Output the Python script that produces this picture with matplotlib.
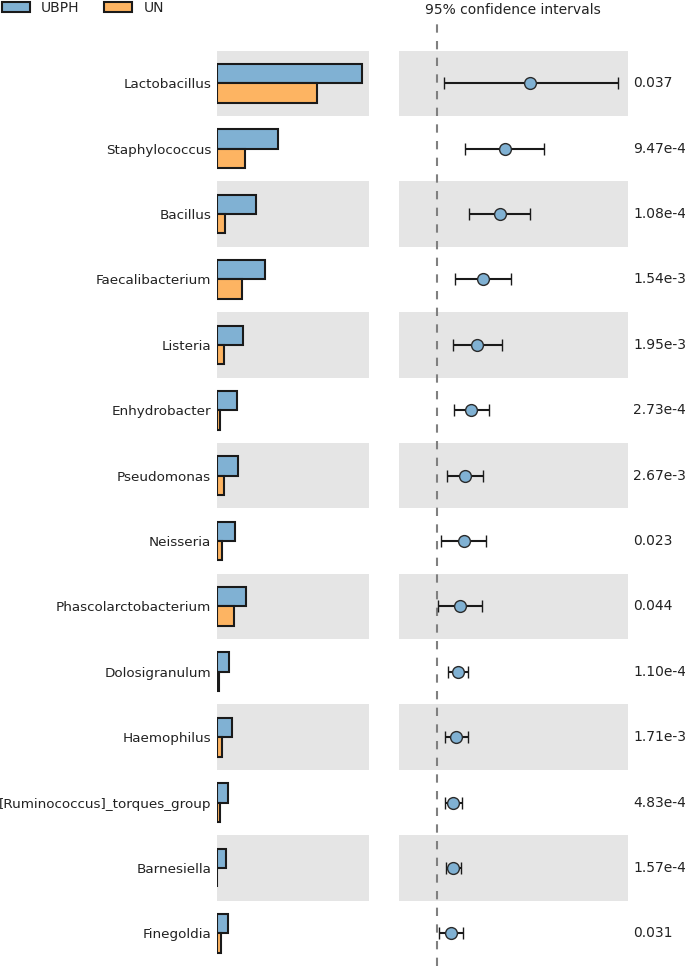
import matplotlib
matplotlib.use('Agg')
import matplotlib.pyplot as plt
import matplotlib.transforms as mtransforms
from matplotlib.patches import Patch
import numpy as np

genera = ['Lactobacillus', 'Staphylococcus', 'Bacillus', 'Faecalibacterium', 'Listeria',
          'Enhydrobacter', 'Pseudomonas', 'Neisseria', 'Phascolarctobacterium',
          'Dolosigranulum', 'Haemophilus', '[Ruminococcus]_torques_group', 'Barnesiella',
          'Finegoldia']

# mean abundance (%) per group
ubph = [14.98, 6.33, 4.00, 4.93, 2.72, 2.07, 2.20, 1.86, 2.96, 1.27, 1.55, 1.17, 0.93, 1.17]
un = [10.30, 2.89, 0.80, 2.61, 0.72, 0.31, 0.75, 0.52, 1.79, 0.21, 0.55, 0.31, 0.03, 0.40]

# difference in mean and 95% CI
diff = [4.68, 3.43, 3.18, 2.33, 2.03, 1.73, 1.43, 1.36, 1.16, 1.05, 0.97, 0.83, 0.83, 0.71]
ci_low = [0.34, 1.43, 1.63, 0.92, 0.79, 0.84, 0.52, 0.19, 0.03, 0.54, 0.39, 0.39, 0.44, 0.08]
ci_high = [9.14, 5.42, 4.71, 3.75, 3.28, 2.64, 2.34, 2.49, 2.26, 1.55, 1.58, 1.28, 1.23, 1.33]

p_values = ['0.037', '9.47e-4', '1.08e-4', '1.54e-3', '1.95e-3', '2.73e-4', '2.67e-3',
            '0.023', '0.044', '1.10e-4', '1.71e-3', '4.83e-4', '1.57e-4', '0.031']

blue = '#80B1D3'
orange = '#FDB462'
band = '#E5E5E5'
txt = '#222222'

n = len(genera)
y = np.arange(n)

fig = plt.figure(figsize=(6.85, 9.66), dpi=100)
ax1 = fig.add_axes([0.3168, 0.0, 0.2219, 0.9814])
ax2 = fig.add_axes([0.5825, 0.0, 0.3336, 0.9814])

for ax in (ax1, ax2):
    for i in range(0, n, 2):
        ax.axhspan(i - 0.5, i + 0.5, color=band, zorder=0, lw=0)
    ax.set_ylim(n - 0.5, -1.0)
    for s in ax.spines.values():
        s.set_visible(False)
    ax.tick_params(length=0)
    ax.set_xticks([])

# left: bar chart
ax1.barh(y - 0.148, ubph, height=0.296, color=blue, edgecolor='#1a1a1a', lw=1.5, zorder=2)
ax1.barh(y + 0.148, un, height=0.296, color=orange, edgecolor='#1a1a1a', lw=1.5, zorder=2)
ax1.set_xlim(0, 15.7)
ax1.set_yticks(y)
ax1.set_yticklabels(genera, fontsize=9.7, color=txt)
ax1.tick_params(axis='y', pad=4.3)

# right: CI plot
diff_a = np.array(diff)
xerr = [diff_a - np.array(ci_low), np.array(ci_high) - diff_a]
ax2.axvline(0, color='#808080', lw=1.5, linestyle=(0, (4, 4)), zorder=1)
ax2.errorbar(diff, y, xerr=xerr, fmt='o', color='#1a1a1a', mfc=blue, mec='#2a2a2a',
             ms=8.5, mew=1.0, elinewidth=1.5, capsize=4, capthick=1.2, zorder=3)
ax2.set_xlim(-1.92, 9.62)
ax2.set_yticks([])
ax2.set_title('95% confidence intervals', fontsize=10, pad=3, color=txt)

trans = mtransforms.blended_transform_factory(ax2.transAxes, ax2.transData)
for i, p in enumerate(p_values):
    ax2.text(1.024, i, p, transform=trans, fontsize=10, va='center', ha='left', color=txt)

handles = [Patch(facecolor=blue, edgecolor='#1a1a1a', lw=1.5, label='UBPH'),
           Patch(facecolor=orange, edgecolor='#1a1a1a', lw=1.5, label='UN')]
leg = fig.legend(handles=handles, loc='upper left', bbox_to_anchor=(0.003, 0.999), ncol=2,
                 frameon=False, fontsize=10, borderpad=0.0, borderaxespad=0.0,
                 columnspacing=1.8)
for t in leg.get_texts():
    t.set_color(txt)

fig.savefig('out.png', dpi=100)
